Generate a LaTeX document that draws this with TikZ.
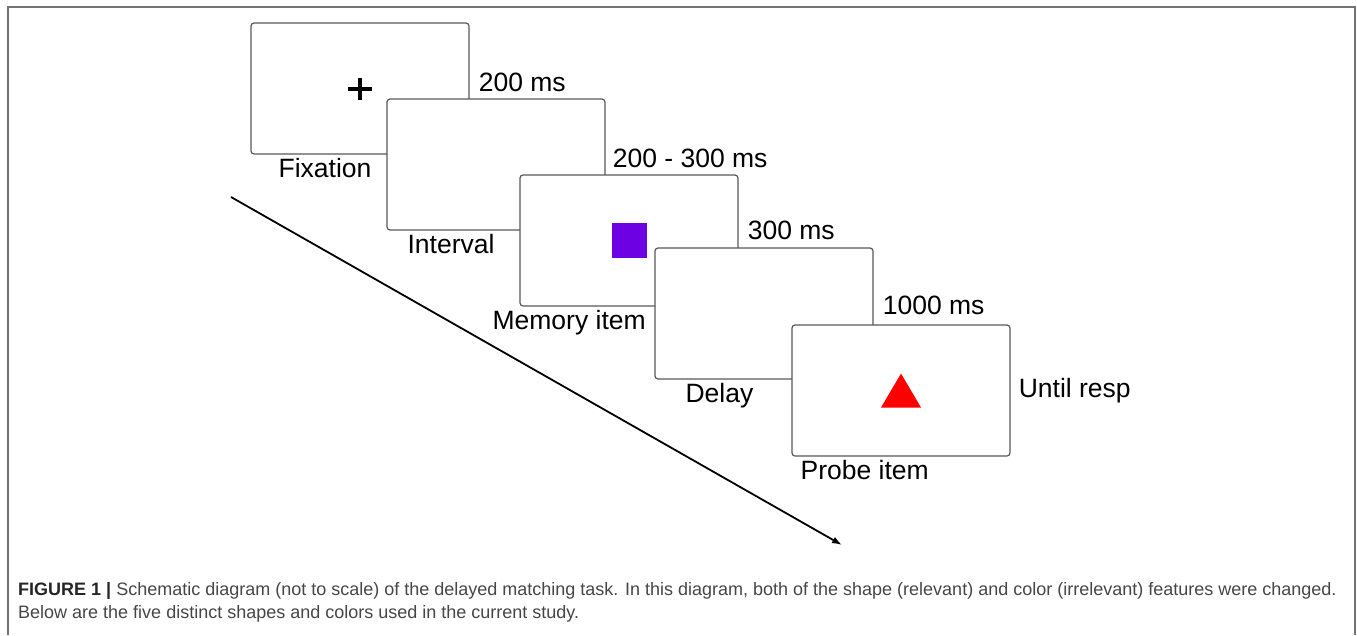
\documentclass[tikz,border=0pt]{standalone}
\usepackage{fontspec}
\setmainfont{Liberation Sans}
\usetikzlibrary{arrows.meta}

\definecolor{itempurple}{RGB}{110,0,228}
\definecolor{framegray}{RGB}{115,115,115}
\definecolor{captext}{RGB}{70,70,70}

\begin{document}
\begin{tikzpicture}[x=1pt, y=-1pt, >={Latex[length=10pt, width=7pt]}]
  \tikzstyle{screen} = [draw=black!65, fill=white, line width=1.2pt, rounded corners=3pt, minimum width=218pt, minimum height=131pt, inner sep=0pt]
  \tikzstyle{lbl} = [inner sep=0pt, font=\fontsize{26.5}{30}\selectfont, anchor=base west]
  \tikzstyle{capline} = [inner sep=0pt, font=\fontsize{18}{22}\selectfont, text=captext, anchor=base west]
  \useasboundingbox (0,0) rectangle (1357,635);
  \draw [framegray, line width=2pt] (7.5,635) |- (1355,6.5) -- (1355,635);

  % screens, each one drawn over the one before
  \node [screen] (fix) at (360,88.5) {};
  \draw [line width=4pt] ([xshift=-12pt]fix.center) -- ([xshift=12pt]fix.center);
  \draw [line width=4pt] ([yshift=11pt]fix.center) -- ([yshift=-11pt]fix.center);
  \node [screen] (int) at (496,164.5) {};
  \node [screen] (mem) at (629,240.5) {};
  \node [fill=itempurple, minimum size=35pt, inner sep=0pt] (square) at (mem.center) {};
  \node [screen] (delay) at (764,313.5) {};
  \node [screen] (probe) at (901,390.5) {};
  \fill [red] ([shift={(0,-17)}]probe.center) -- ([shift={(20,17)}]probe.center) -- ([shift={(-20,17)}]probe.center) -- cycle;

  % names under the screens
  \node [lbl] (fixname) at ([shift={(28,22.5)}]fix.south west) {Fixation};
  \node [lbl] (intname) at ([shift={(21,22.5)}]int.south west) {Interval};
  \node [lbl] (memname) at ([shift={(-27,22.5)}]mem.south west) {Memory item};
  \node [lbl] (delayname) at ([shift={(31,22.5)}]delay.south west) {Delay};
  \node [lbl] (probename) at ([shift={(9,22.5)}]probe.south west) {Probe item};

  % durations
  \node [lbl] (t1) at ([shift={(9,-7)}]int.north -| fix.east) {200 ms};
  \node [lbl] (t2) at ([shift={(7,-7)}]mem.north -| int.east) {200 - 300 ms};
  \node [lbl] (t3) at ([shift={(9,-8)}]delay.north -| mem.east) {300 ms};
  \node [lbl] (t4) at ([shift={(9,-10)}]probe.north -| delay.east) {1000 ms};
  \node [lbl, anchor=west] (t5) at ([xshift=8pt]probe.east) {Until resp};

  % time axis
  \coordinate (tstart) at (231,197);
  \coordinate (tend) at (842,545);
  \draw [->, line width=1.8pt] (tstart) -- (tend);

  \node [capline] (cap1) at (18,595) {{\bfseries\color{black!85}FIGURE 1 |} Schematic diagram (not to scale) of the delayed matching task. In this diagram, both of the shape (relevant) and color (irrelevant) features were changed.};
  \node [capline] (cap2) at (18,618) {Below are the five distinct shapes and colors used in the current study.};
\end{tikzpicture}
\end{document}
